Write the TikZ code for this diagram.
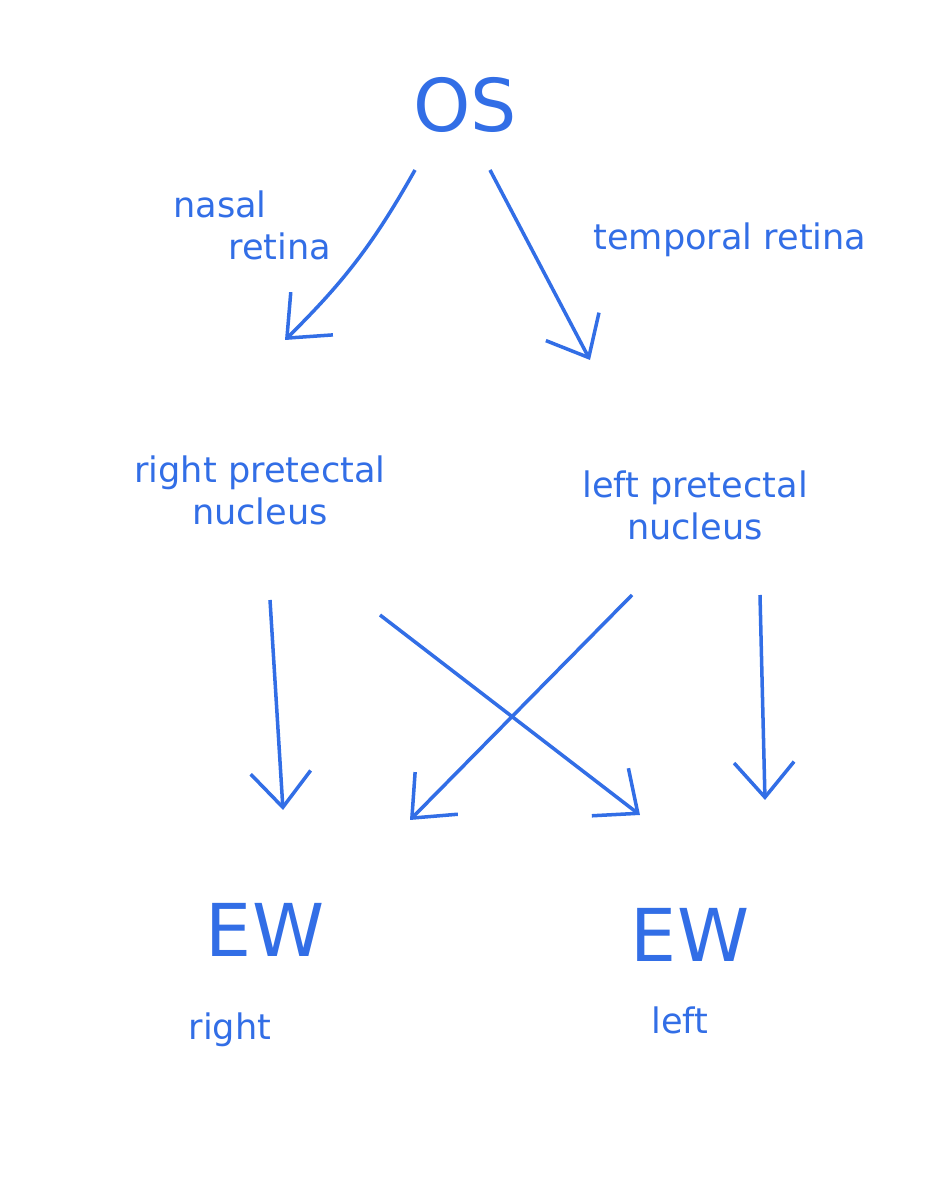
\documentclass[tikz,border=0pt]{standalone}
\usepackage{fontspec}
\setmainfont{DejaVu Sans}
\usetikzlibrary{arrows.meta}
\definecolor{ink}{RGB}{50,110,230}
\begin{document}
\begin{tikzpicture}[x=1cm,y=1cm]
\tikzset{lbl/.style={text=ink,font=\normalsize,align=center},
	arr/.style={draw=ink,line width=1pt,-{Straight Barb[length=3.5mm,width=6mm]}}}
\useasboundingbox (0,0) rectangle (9.26,12);
% labels
\node[lbl,font=\huge] (os) at (4.65,10.95) {OS};
\node[lbl] (nasal) at (2.2,9.75) {nasal\\\hspace*{1.2cm}retina};
\node[lbl] (temporal) at (7.3,9.6) {temporal retina};
\node[lbl] (rpn) at (2.6,7.1) {right pretectal\\nucleus};
\node[lbl] (lpn) at (6.95,6.95) {left pretectal\\nucleus};
\node[lbl,font=\huge] (ewr) at (2.65,2.7) {EW};
\node[lbl] (right) at (2.3,1.7) {right};
\node[lbl,font=\huge] (ewl) at (6.9,2.65) {EW};
\node[lbl] (left) at (6.8,1.8) {left};
% arrow ends
\coordinate (a1s) at (4.15,10.3); \coordinate (a1e) at (2.85,8.6);
\coordinate (a2s) at (4.9,10.3); \coordinate (a2e) at (5.9,8.4);
\coordinate (b1s) at (2.7,6.0); \coordinate (b1e) at (2.83,3.9);
\coordinate (b2s) at (3.8,5.85); \coordinate (b2e) at (6.4,3.85);
\coordinate (b3s) at (6.32,6.05); \coordinate (b3e) at (4.1,3.8);
\coordinate (b4s) at (7.6,6.05); \coordinate (b4e) at (7.65,4.0);
% arrows
\draw[arr] (a1s) to[bend left=8] (a1e);
\draw[arr] (a2s) -- (a2e);
\draw[arr] (b1s) -- (b1e);
\draw[arr] (b2s) -- (b2e);
\draw[arr] (b3s) -- (b3e);
\draw[arr] (b4s) -- (b4e);
\end{tikzpicture}
\end{document}
